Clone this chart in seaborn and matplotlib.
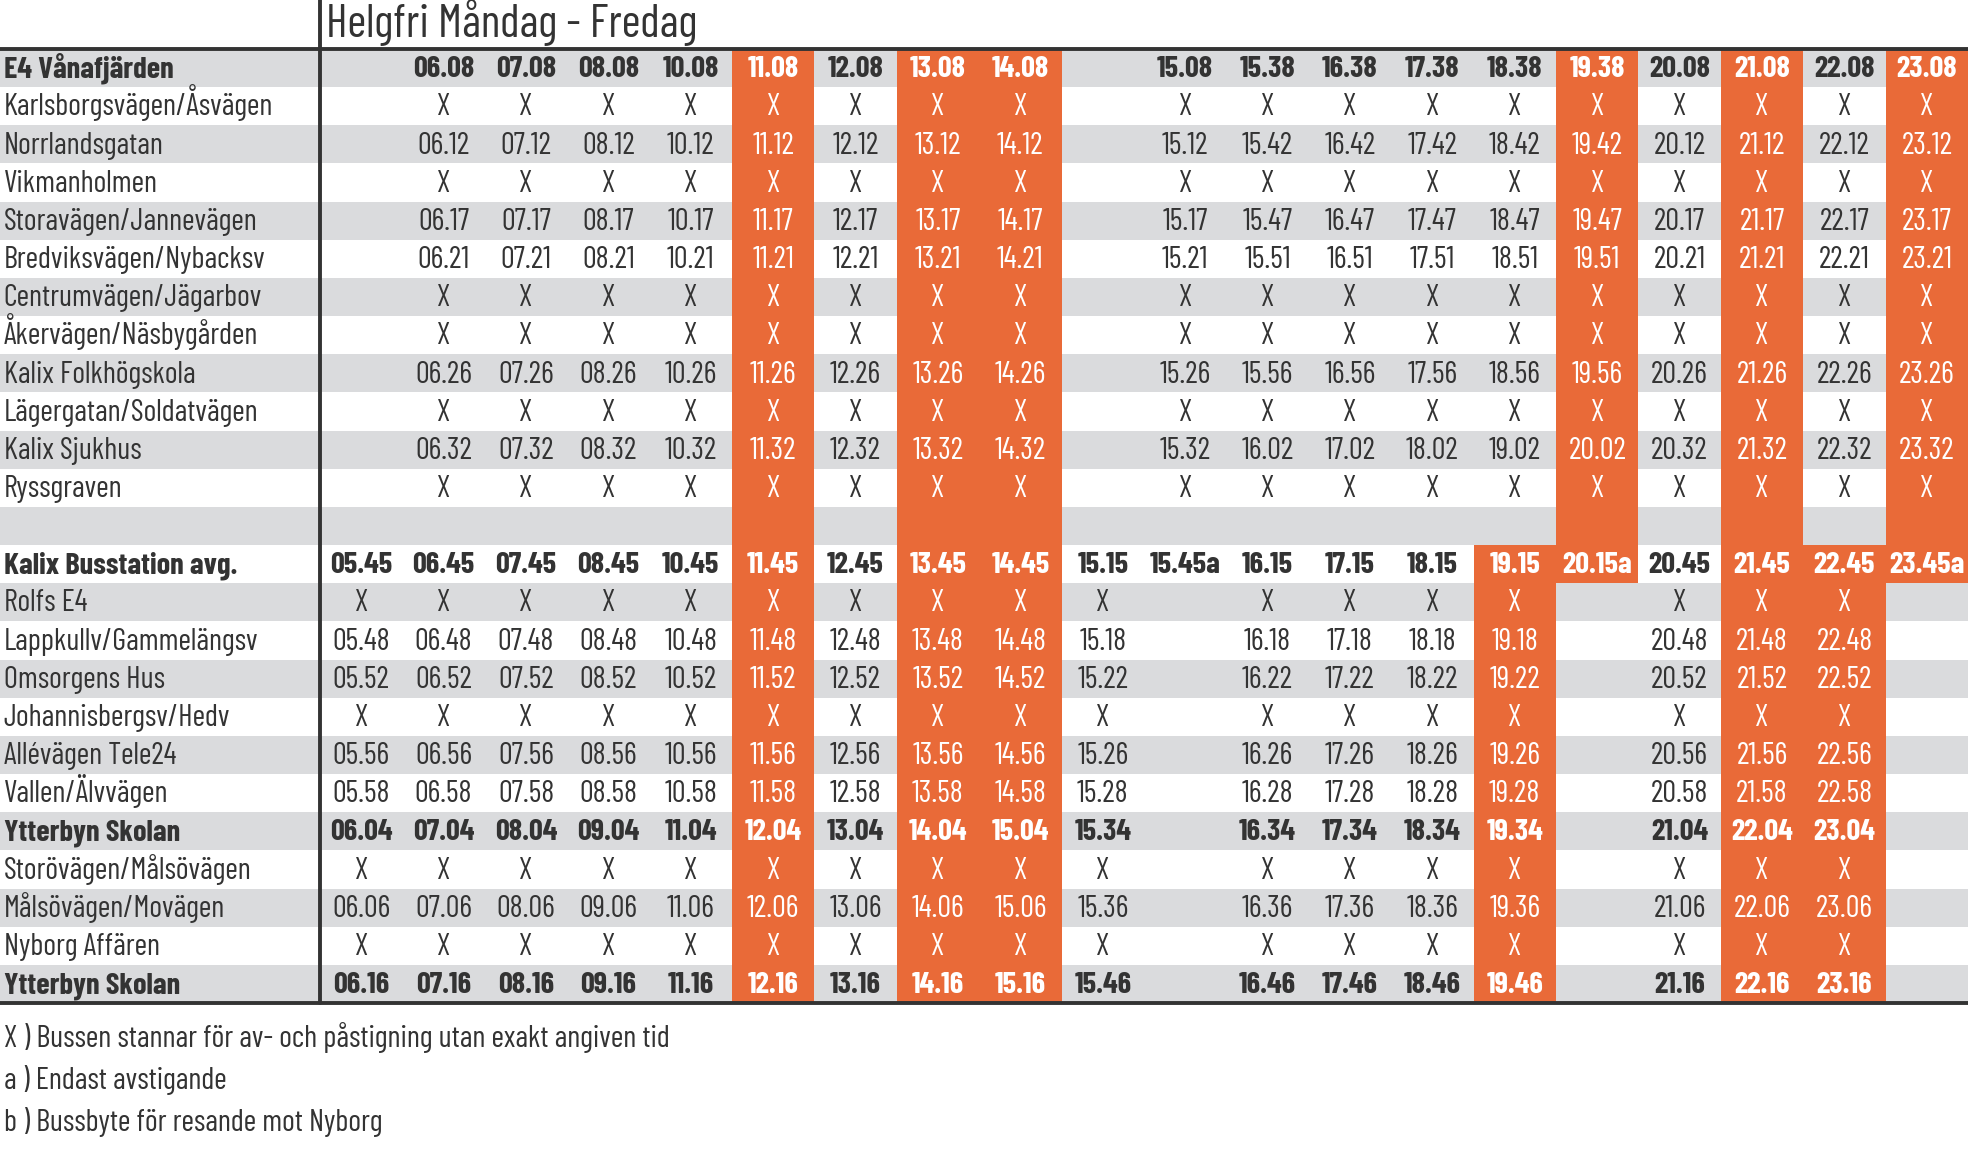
import numpy as np
import matplotlib
matplotlib.use("Agg")
import matplotlib.pyplot as plt
from matplotlib.colors import ListedColormap
from matplotlib.lines import Line2D
from matplotlib import font_manager
import seaborn as sns

title = "Helgfri Måndag - Fredag"

departures = ["05.45", "06.45", "07.45", "08.45", "10.45", "11.45", "12.45", "13.45", "14.45", "15.15",
              "15.45a", "16.15", "17.15", "18.15", "19.15", "20.15a", "20.45", "21.45", "22.45", "23.45a"]

stops_in = ["E4 Vånafjärden", "Karlsborgsvägen/Åsvägen", "Norrlandsgatan", "Vikmanholmen",
            "Storavägen/Jannevägen", "Bredviksvägen/Nybacksv", "Centrumvägen/Jägarbov",
            "Åkervägen/Näsbygården", "Kalix Folkhögskola", "Lägergatan/Soldatvägen",
            "Kalix Sjukhus", "Ryssgraven"]

x_in = ["", "X", "X", "X", "X", "X", "X", "X", "X", "", "X", "X", "X", "X", "X", "X", "X", "X", "X", "X"]

times_in = [
    ["", "06.08", "07.08", "08.08", "10.08", "11.08", "12.08", "13.08", "14.08", "", "15.08", "15.38", "16.38", "17.38", "18.38", "19.38", "20.08", "21.08", "22.08", "23.08"],
    x_in,
    ["", "06.12", "07.12", "08.12", "10.12", "11.12", "12.12", "13.12", "14.12", "", "15.12", "15.42", "16.42", "17.42", "18.42", "19.42", "20.12", "21.12", "22.12", "23.12"],
    x_in,
    ["", "06.17", "07.17", "08.17", "10.17", "11.17", "12.17", "13.17", "14.17", "", "15.17", "15.47", "16.47", "17.47", "18.47", "19.47", "20.17", "21.17", "22.17", "23.17"],
    ["", "06.21", "07.21", "08.21", "10.21", "11.21", "12.21", "13.21", "14.21", "", "15.21", "15.51", "16.51", "17.51", "18.51", "19.51", "20.21", "21.21", "22.21", "23.21"],
    x_in,
    x_in,
    ["", "06.26", "07.26", "08.26", "10.26", "11.26", "12.26", "13.26", "14.26", "", "15.26", "15.56", "16.56", "17.56", "18.56", "19.56", "20.26", "21.26", "22.26", "23.26"],
    x_in,
    ["", "06.32", "07.32", "08.32", "10.32", "11.32", "12.32", "13.32", "14.32", "", "15.32", "16.02", "17.02", "18.02", "19.02", "20.02", "20.32", "21.32", "22.32", "23.32"],
    x_in,
]

stops_out = ["Kalix Busstation avg.", "Rolfs E4", "Lappkullv/Gammelängsv", "Omsorgens Hus",
             "Johannisbergsv/Hedv", "Allévägen Tele24", "Vallen/Älvvägen", "Ytterbyn Skolan",
             "Storövägen/Målsövägen", "Målsövägen/Movägen", "Nyborg Affären", "Ytterbyn Skolan"]

x_out = ["X", "X", "X", "X", "X", "X", "X", "X", "X", "X", "", "X", "X", "X", "X", "", "X", "X", "X", ""]

times_out = [
    departures,
    x_out,
    ["05.48", "06.48", "07.48", "08.48", "10.48", "11.48", "12.48", "13.48", "14.48", "15.18", "", "16.18", "17.18", "18.18", "19.18", "", "20.48", "21.48", "22.48", ""],
    ["05.52", "06.52", "07.52", "08.52", "10.52", "11.52", "12.52", "13.52", "14.52", "15.22", "", "16.22", "17.22", "18.22", "19.22", "", "20.52", "21.52", "22.52", ""],
    x_out,
    ["05.56", "06.56", "07.56", "08.56", "10.56", "11.56", "12.56", "13.56", "14.56", "15.26", "", "16.26", "17.26", "18.26", "19.26", "", "20.56", "21.56", "22.56", ""],
    ["05.58", "06.58", "07.58", "08.58", "10.58", "11.58", "12.58", "13.58", "14.58", "15.28", "", "16.28", "17.28", "18.28", "19.28", "", "20.58", "21.58", "22.58", ""],
    ["06.04", "07.04", "08.04", "09.04", "11.04", "12.04", "13.04", "14.04", "15.04", "15.34", "", "16.34", "17.34", "18.34", "19.34", "", "21.04", "22.04", "23.04", ""],
    x_out,
    ["06.06", "07.06", "08.06", "09.06", "11.06", "12.06", "13.06", "14.06", "15.06", "15.36", "", "16.36", "17.36", "18.36", "19.36", "", "21.06", "22.06", "23.06", ""],
    x_out,
    ["06.16", "07.16", "08.16", "09.16", "11.16", "12.16", "13.16", "14.16", "15.16", "15.46", "", "16.46", "17.46", "18.46", "19.46", "", "21.16", "22.16", "23.16", ""],
]

bold_stops = ["E4 Vånafjärden", "Kalix Busstation avg.", "Ytterbyn Skolan"]

notes = ["X ) Bussen stannar för av- och påstigning utan exakt angiven tid",
         "a ) Endast avstigande",
         "b ) Bussbyte för resande mot Nyborg"]

# orange (highlighted) departures: column -> (first row, last row)
orange_cols = {5: (0, 24), 7: (0, 24), 8: (0, 24), 14: (13, 24), 15: (0, 13),
               17: (0, 24), 18: (13, 24), 19: (0, 13)}

GREY = "#DADBDD"
ORANGE = "#E96A38"
DARK = "#333333"

stops = stops_in + [""] + stops_out
times = times_in + [[""] * len(departures)] + times_out
n_rows, n_cols = len(stops), len(departures)

stripe = np.array([[1 if r % 2 == 0 else 0] for r in range(n_rows)])
codes = np.repeat(stripe, n_cols, axis=1)
for c, (r0, r1) in orange_cols.items():
    codes[r0:r1 + 1, c] = 2

sns.set_theme(style="white")
installed = {f.name for f in font_manager.fontManager.ttflist}
narrow = ["Liberation Sans Narrow", "Barlow Condensed", "Roboto Condensed", "Archivo Narrow",
          "PT Sans Narrow", "Open Sans Condensed", "Roboto"]
main_font = next((f for f in narrow if f in installed), "DejaVu Sans")
plt.rcParams["font.family"] = [main_font, "DejaVu Sans"]

W, H = 1968, 1163
fig = plt.figure(figsize=(W / 100, H / 100), dpi=100)
top_px, bot_px, split_px = 49, 1003, 320
ax_names = fig.add_axes([0, 1 - bot_px / H, split_px / W, (bot_px - top_px) / H])
ax_times = fig.add_axes([split_px / W, 1 - bot_px / H, 1 - split_px / W, (bot_px - top_px) / H])

cmap = ListedColormap(["white", GREY, ORANGE])
sns.heatmap(stripe, ax=ax_names, cmap=cmap, vmin=0, vmax=2, cbar=False,
            xticklabels=False, yticklabels=False)
sns.heatmap(codes, ax=ax_times, cmap=cmap, vmin=0, vmax=2, cbar=False,
            xticklabels=False, yticklabels=False)

fs = 22
base = 0.74  # baseline inside a row, so accents do not push text down
for r, name in enumerate(stops):
    weight = "bold" if name in bold_stops else "normal"
    ax_names.text(0.012, r + base, name, ha="left", va="baseline", fontsize=fs,
                  color=DARK, fontweight=weight)
    for c, val in enumerate(times[r]):
        if not val:
            continue
        col = "white" if codes[r, c] == 2 else DARK
        ax_times.text(c + 0.5, r + base, val, ha="center", va="baseline", fontsize=fs,
                      color=col, fontweight=weight)

for ax in (ax_names, ax_times):
    for s in ax.spines.values():
        s.set_visible(False)

fig.text((split_px + 6) / W, 1 - 37 / H, title, ha="left", va="baseline",
         fontsize=33, color=DARK)

lw = 2.8
fig.add_artist(Line2D([0, 1], [1 - top_px / H] * 2, color=DARK, lw=lw))
fig.add_artist(Line2D([0, 1], [1 - bot_px / H] * 2, color=DARK, lw=lw))
fig.add_artist(Line2D([split_px / W] * 2, [1, 1 - bot_px / H], color=DARK, lw=lw))

for i, note in enumerate(notes):
    fig.text(4 / W, 1 - (1047 + 42 * i) / H, note, ha="left", va="baseline",
             fontsize=fs, color=DARK)

fig.savefig("out.png", dpi=100)
